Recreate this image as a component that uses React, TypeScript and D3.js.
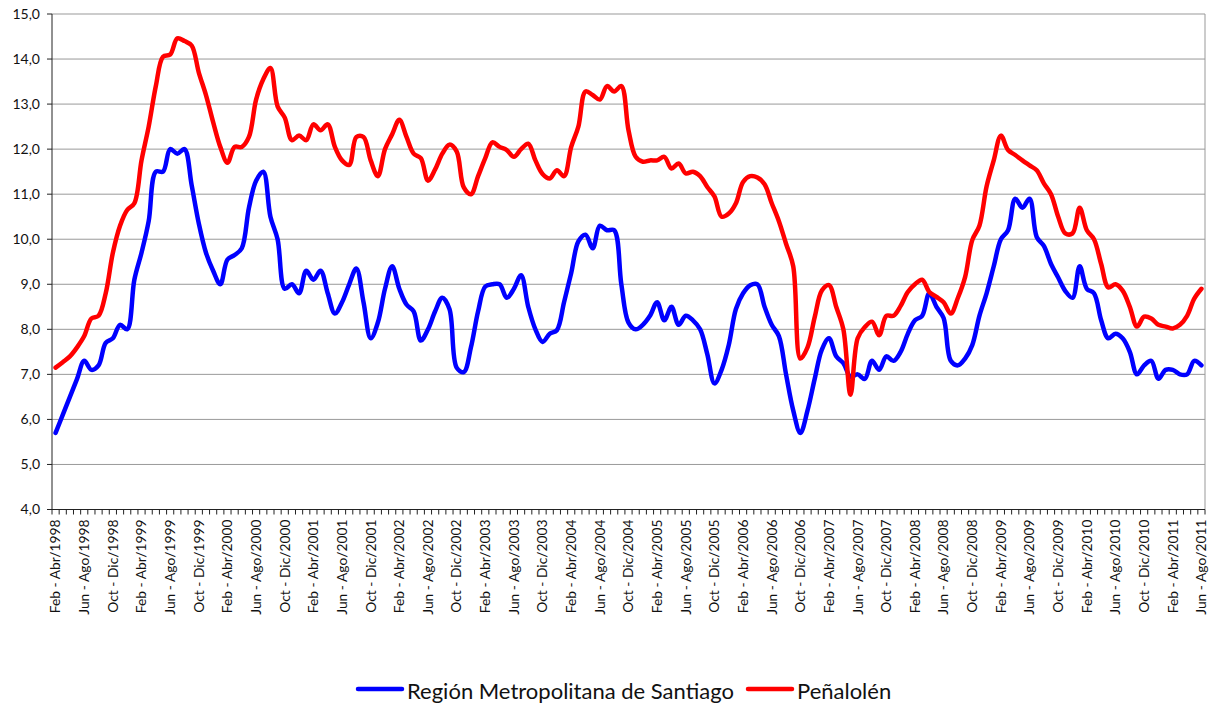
import React from "react";
import * as d3 from "d3";

const MONTHS = ["Ene", "Feb", "Mar", "Abr", "May", "Jun", "Jul", "Ago", "Sep", "Oct", "Nov", "Dic"];
const START_YEAR = 1998;
const START_MONTH = 1; // Feb

const regionMetropolitana = [
  5.7, 6.1, 6.5, 6.9, 7.3, 7.1, 7.2, 7.7, 7.8, 8.1, 8.0, 9.1, 9.7, 10.4, 11.5, 11.5, 12.0, 11.9, 12.0, 11.2,
  10.35, 9.7, 9.3, 9.0, 9.55, 9.65, 9.8, 10.7, 11.3, 11.5, 10.5, 10.0, 8.9, 9.0, 8.8, 9.3, 9.1, 9.3, 8.8, 8.35,
  8.6, 9.0, 9.35, 8.6, 7.8, 8.15, 8.9, 9.4, 8.9, 8.55, 8.4, 7.75, 8.0, 8.4, 8.7, 8.45, 7.15, 7.05, 7.6, 8.4,
  8.95, 9.0, 9.0, 8.7, 8.9, 9.2, 8.5, 8.0, 7.72, 7.9, 7.98, 8.6, 9.25, 9.95, 10.1, 9.8, 10.3, 10.2, 10.2, 9.0,
  8.15, 8.0, 8.1, 8.3, 8.6, 8.2, 8.5, 8.1, 8.3, 8.2, 8.0, 7.45, 6.8, 7.1, 7.65, 8.45, 8.8, 8.98, 9.0, 8.5,
  8.1, 7.85, 7.0, 6.2, 5.7, 6.2, 6.9, 7.55, 7.8, 7.4, 7.25, 6.95, 7.0, 6.9, 7.3, 7.1, 7.4, 7.3, 7.5, 7.9,
  8.2, 8.3, 8.8, 8.5, 8.25, 7.3, 7.2, 7.35, 7.65, 8.3, 8.8, 9.4, 10.0, 10.2, 10.9, 10.7, 10.9, 10.05, 9.85, 9.45,
  9.15, 8.85, 8.7, 9.4, 8.9, 8.8, 8.2, 7.8, 7.9, 7.8, 7.5, 7.0, 7.2, 7.3, 6.9, 7.1, 7.1, 7.0, 7.0, 7.3,
  7.2,
];

const penalolen = [
  7.15, 7.27, 7.4, 7.6, 7.85, 8.24, 8.3, 8.8, 9.7, 10.3, 10.65, 10.8, 11.75, 12.5, 13.4, 14.05, 14.1, 14.46, 14.4, 14.3,
  13.7, 13.2, 12.6, 12.05, 11.7, 12.05, 12.05, 12.27, 13.1, 13.55, 13.8, 12.95, 12.7, 12.2, 12.3, 12.2, 12.55, 12.42, 12.55, 12.05,
  11.75, 11.65, 12.27, 12.27, 11.75, 11.4, 12.0, 12.33, 12.65, 12.27, 11.9, 11.8, 11.3, 11.55, 11.9, 12.1, 11.95, 11.15, 11.0, 11.4,
  11.8, 12.15, 12.05, 11.98, 11.83, 12.0, 12.12, 11.75, 11.45, 11.35, 11.53, 11.4, 12.05, 12.5, 13.28, 13.2, 13.1, 13.4, 13.28, 13.4,
  12.42, 11.83, 11.72, 11.75, 11.75, 11.83, 11.57, 11.68, 11.46, 11.5, 11.4, 11.16, 10.95, 10.5, 10.57, 10.8, 11.27, 11.4, 11.37, 11.22,
  10.8, 10.4, 9.9, 9.4, 7.35, 7.6, 8.27, 8.86, 8.98, 8.5, 8.0, 6.55, 7.8, 8.05, 8.17, 7.87, 8.3, 8.3, 8.52, 8.83,
  9.0, 9.1, 8.83, 8.72, 8.6, 8.35, 8.7, 9.16, 9.98, 10.3, 11.17, 11.75, 12.3, 11.98, 11.87, 11.75, 11.64, 11.53, 11.24, 11.0,
  10.5, 10.13, 10.13, 10.7, 10.2, 10.0, 9.45, 8.93, 9.0, 8.86, 8.5, 8.06, 8.28, 8.24, 8.1, 8.06, 8.02, 8.1, 8.3, 8.68,
  8.9,
];

const yTicks = [4, 5, 6, 7, 8, 9, 10, 11, 12, 13, 14, 15];
const seriesNames = ["Región Metropolitana de Santiago", "Peñalolén"];
const seriesColors = ["#0000FF", "#FF0000"];

const categories = regionMetropolitana.map((_, i) => {
  const s = START_MONTH + i;
  const e = s + 2;
  const year = START_YEAR + Math.floor(e / 12);
  return `${MONTHS[s % 12]} - ${MONTHS[e % 12]}/${year}`;
});

const W = 1223;
const H = 704;
const left = 52;
const right = 1205;
const top = 14;
const bottom = 509.5;
const FONT = "Lato, 'Open Sans', sans-serif";

export default function App() {
  const x = d3.scalePoint<string>().domain(categories).range([left, right]).padding(0.5);
  const step = x.step();
  const y = d3.scaleLinear().domain([4, 15]).range([bottom, top]);
  const line = d3
    .line<number>()
    .x((_, i) => x(categories[i]) as number)
    .y((d) => y(d))
    .curve(d3.curveCatmullRom.alpha(0.5));
  const fmt = (v: number) => d3.format(".1f")(v).replace(".", ",");
  const boundaries = d3.range(categories.length + 1).map((i) => left + i * step);

  return (
    <svg width={W} height={H} style={{ position: "absolute", left: 0, top: 0, background: "#fff" }}>
      {yTicks.map((t) => (
        <g key={t}>
          {t > 4 && <line x1={left} x2={right} y1={y(t)} y2={y(t)} stroke="#999" strokeWidth={1} />}
          <line x1={left - 5} x2={left} y1={y(t)} y2={y(t)} stroke="#222" strokeWidth={1} />
          <text x={left - 12} y={y(t)} dy="0.35em" textAnchor="end" fontFamily={FONT} fontSize={14} fill="#111">
            {fmt(t)}
          </text>
        </g>
      ))}
      <line x1={right} x2={right} y1={top} y2={bottom} stroke="#999" strokeWidth={1} />
      <line x1={left} x2={left} y1={top} y2={bottom} stroke="#222" strokeWidth={1} />
      <line x1={left} x2={right} y1={bottom} y2={bottom} stroke="#222" strokeWidth={1} />
      {boundaries.map((bx, i) => (
        <line key={i} x1={bx} x2={bx} y1={bottom} y2={bottom + 5} stroke="#222" strokeWidth={1} />
      ))}
      {categories.map((c, i) =>
        i % 4 === 0 ? (
          <text
            key={c}
            transform={`translate(${x(c)},${bottom + 10}) rotate(-90)`}
            textAnchor="end"
            dy="0.35em"
            fontFamily={FONT}
            fontSize={13.8}
            fill="#111"
          >
            {c}
          </text>
        ) : null
      )}
      {[regionMetropolitana, penalolen].map((s, k) => (
        <path
          key={k}
          d={line(s) || ""}
          fill="none"
          stroke={seriesColors[k]}
          strokeWidth={4.5}
          strokeLinejoin="round"
          strokeLinecap="round"
        />
      ))}
      <g fontFamily={FONT} fontSize={22} fill="#111">
        <line x1={358} x2={402} y1={689} y2={689} stroke={seriesColors[0]} strokeWidth={4.5} strokeLinecap="round" />
        <text x={407} y={691} dy="0.35em">{seriesNames[0]}</text>
        <line x1={748} x2={792} y1={689} y2={689} stroke={seriesColors[1]} strokeWidth={4.5} strokeLinecap="round" />
        <text x={797} y={691} dy="0.35em">{seriesNames[1]}</text>
      </g>
    </svg>
  );
}
